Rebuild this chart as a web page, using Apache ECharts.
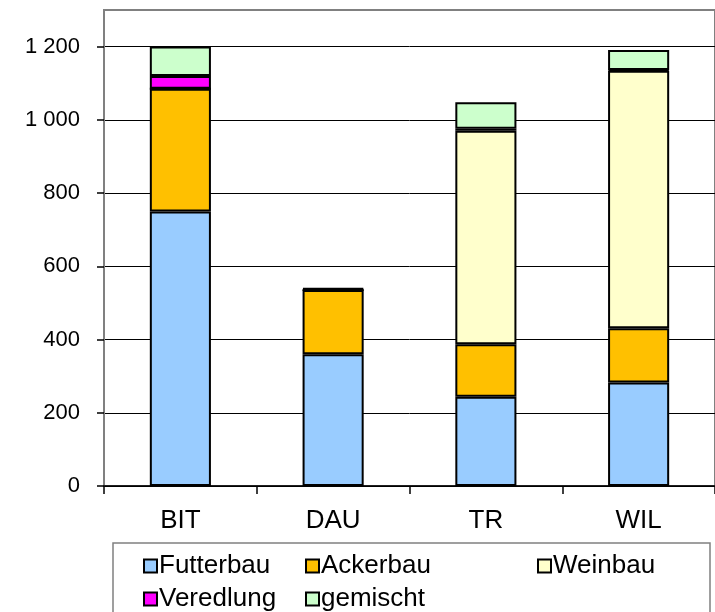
<!DOCTYPE html>
<html><head><meta charset="utf-8">
<script src="https://cdn.jsdelivr.net/npm/echarts@6/dist/echarts.min.js"></script>
<style>html,body{margin:0;padding:0;background:#fff}#c{width:715px;height:612px}</style>
</head><body><div id="c"></div>
<script>
const categories = ['BIT', 'DAU', 'TR', 'WIL'];
const futterbau = [750, 360, 244, 283];
const ackerbau = [335, 175, 143, 148];
const weinbau = [0, 0, 583, 703];
const veredlung = [35, 3, 6, 2];
const gemischt = [80, 2, 72, 55];
const yTickValues = [0, 200, 400, 600, 800, 1000, 1200];
const seriesNames = ['Futterbau', 'Ackerbau', 'Weinbau', 'Veredlung', 'gemischt'];
const seriesColors = ['#99CCFF', '#FFC000', '#FFFFCC', '#FF00FF', '#CCFFCC'];
const seriesData = [futterbau, ackerbau, weinbau, veredlung, gemischt];

const FONT = '"Liberation Sans", Arial, sans-serif';
const chart = echarts.init(document.getElementById('c'), null, {renderer: 'canvas'});

const legendPos = [
  {left: 143, top: 552}, {left: 305, top: 552}, {left: 537, top: 552},
  {left: 143, top: 585}, {left: 305, top: 585}
];

const option = {
  animation: false,
  backgroundColor: '#fff',
  grid: {left: 104, top: 10, width: 626, height: 476, show: true, borderColor: '#808080', borderWidth: 2, containLabel: false},
  legend: seriesNames.map((n, i) => ({
    data: [n], left: legendPos[i].left, top: legendPos[i].top, padding: 0,
    icon: 'rect', itemWidth: 13, itemHeight: 13, itemGap: 3,
    itemStyle: {borderColor: '#000', borderWidth: 2},
    textStyle: {fontFamily: FONT, fontSize: 26, color: '#000', lineHeight: 28, padding: [0, 0, 0, -3]},
    selectedMode: false
  })),
  graphic: [{type: 'rect', shape: {x: 113, y: 543, width: 597, height: 90}, style: {fill: 'none', stroke: '#808080', lineWidth: 1.5}, silent: true}],
  xAxis: {
    type: 'category', data: categories,
    axisLine: {lineStyle: {color: '#000', width: 1.5}},
    axisTick: {show: true, alignWithLabel: false, length: 8, lineStyle: {color: '#000', width: 1.5}},
    axisLabel: {fontFamily: FONT, fontSize: 26, color: '#000', margin: 22}
  },
  yAxis: {
    type: 'value', min: 0, max: 1300, interval: 200,
    axisLine: {show: true, lineStyle: {color: '#808080', width: 2}},
    axisTick: {show: true, length: 7, customValues: yTickValues, lineStyle: {color: '#000', width: 1.5}},
    axisLabel: {
      fontFamily: FONT, fontSize: 22, color: '#000', margin: 24, customValues: yTickValues,
      formatter: v => v >= 1000 ? String(v).replace(/(\d)(\d{3})$/, '$1 $2') : String(v)
    },
    splitLine: {show: true, lineStyle: {color: '#000', width: 1}}
  },
  series: seriesNames.map((n, i) => ({
    name: n, type: 'bar', stack: 'total', barWidth: '40%', data: seriesData[i],
    itemStyle: {color: seriesColors[i], borderColor: '#000', borderWidth: 2}
  }))
};
chart.setOption(option);
</script></body></html>
